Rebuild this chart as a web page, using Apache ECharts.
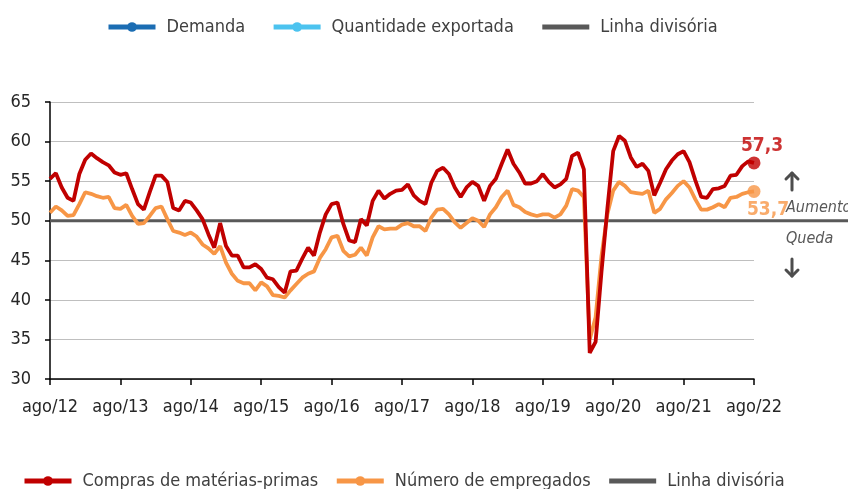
<!DOCTYPE html>
<html><head><meta charset="utf-8">
<script src="https://cdn.jsdelivr.net/npm/echarts@6/dist/echarts.min.js"></script>
<style>html,body{margin:0;padding:0;background:#fff}#c{width:848px;height:489px}</style>
</head><body><div id="c"></div>
<script>
const FONT = "'Liberation Sans Narrow','DejaVu Sans Condensed',Roboto,sans-serif";
const monthNames = ['ago','set','out','nov','dez','jan','fev','mar','abr','mai','jun','jul'];
const startYear = 12;
const categories = [];
for (let i = 0; i < 121; i++) {
  const m = i % 12;
  const yr = startYear + Math.floor((i + 7) / 12);
  categories.push(monthNames[m] + '/' + String(yr).padStart(2, '0'));
}
const yTicks = [30, 35, 40, 45, 50, 55, 60, 65];
const divisorValue = 50;

const compras = [55.3,56.0,54.2,52.9,52.5,55.9,57.7,58.5,57.9,57.4,57.0,56.1,
 55.8,56.0,54.0,52.1,51.4,53.6,55.7,55.7,54.9,51.6,51.3,52.5,
 52.3,51.3,50.2,48.3,46.6,49.7,46.8,45.6,45.6,44.1,44.1,44.5,
 43.9,42.8,42.6,41.6,40.9,43.6,43.7,45.2,46.6,45.6,48.5,50.8,
 52.1,52.3,49.6,47.5,47.3,50.2,49.4,52.5,53.8,52.8,53.4,53.8,
 53.9,54.6,53.2,52.5,52.1,54.8,56.3,56.7,55.9,54.2,53.0,54.2,
 54.9,54.4,52.5,54.4,55.3,57.2,59.0,57.2,56.1,54.7,54.7,55.0,
 55.9,54.9,54.2,54.6,55.3,58.2,58.6,56.5,33.3,34.7,43.5,51.5,
 58.8,60.7,60.1,58.0,56.8,57.2,56.3,53.2,54.8,56.5,57.6,58.4,
 58.8,57.4,55.1,53.0,52.9,54.0,54.1,54.4,55.7,55.8,56.9,57.5,
 57.3];
const empregados = [51.0,51.8,51.3,50.6,50.7,52.1,53.6,53.4,53.1,52.9,53.0,51.6,
 51.5,52.0,50.6,49.6,49.7,50.6,51.6,51.8,50.2,48.7,48.5,48.2,
 48.5,48.0,47.0,46.5,45.8,46.8,44.7,43.3,42.4,42.1,42.1,41.2,
 42.2,41.7,40.6,40.5,40.3,41.2,42.0,42.8,43.3,43.6,45.3,46.4,
 47.9,48.1,46.2,45.5,45.7,46.6,45.6,47.9,49.3,48.9,49.0,49.0,
 49.5,49.7,49.3,49.3,48.7,50.4,51.4,51.5,50.8,49.8,49.1,49.7,
 50.3,50.0,49.2,50.8,51.7,53.0,53.8,52.0,51.7,51.1,50.8,50.6,
 50.8,50.8,50.4,50.8,51.9,54.0,53.8,53.0,35.0,37.8,45.5,50.8,
 53.8,54.9,54.4,53.6,53.5,53.4,53.8,51.0,51.5,52.7,53.5,54.4,
 55.0,54.2,52.7,51.4,51.4,51.7,52.1,51.7,52.9,53.0,53.4,53.6,
 53.7];

const RED = '#c00000', ORANGE = '#f79646', GRAY = '#595959';
const fmt = v => String(v).replace('.', ',');
const last = categories.length - 1;
const noSymbol = {color: 'rgba(0,0,0,0)', borderColor: 'rgba(0,0,0,0)', borderWidth: 0};
const legendText = {fontFamily: FONT, fontSize: 18, color: '#404040', padding: [0, 0, 0, 6]};
const arrowStyle = {stroke: '#4d4d4d', lineWidth: 3, lineCap: 'round', lineJoin: 'round', fill: null};

const chart = echarts.init(document.getElementById('c'), null, {renderer: 'canvas'});
chart.setOption({
  animation: false,
  textStyle: {fontFamily: FONT},
  legend: [
    {top: 13, left: 101, itemWidth: 47, itemHeight: 12, itemGap: 26,
     lineStyle: {width: 5}, textStyle: legendText,
     data: ['Demanda', 'Quantidade exportada', {name: 'Linha divisória', itemStyle: noSymbol}]},
    {top: 467, left: 17, itemWidth: 47, itemHeight: 12, itemGap: 16,
     lineStyle: {width: 5}, textStyle: legendText,
     data: ['Compras de matérias-primas', 'Número de empregados', {name: 'Linha divisória', itemStyle: noSymbol}]}
  ],
  grid: [
    {left: 50, right: 94, top: 102, bottom: 110, containLabel: false},
    {left: 50, right: 0, top: 102, bottom: 110, containLabel: false}
  ],
  xAxis: [
    {type: 'category', gridIndex: 0, data: categories, boundaryGap: false,
     axisLine: {lineStyle: {color: '#000', width: 1.5}},
     axisTick: {interval: 11, length: 6, lineStyle: {color: '#000', width: 1.5}},
     axisLabel: {interval: 11, margin: 19, fontFamily: FONT, fontSize: 18, color: '#262626'},
     splitLine: {show: false}},
    {type: 'value', gridIndex: 1, min: 0, max: 1, show: false}
  ],
  yAxis: [
    {type: 'value', gridIndex: 0, min: yTicks[0], max: yTicks[yTicks.length - 1], interval: 5,
     axisLine: {show: true, lineStyle: {color: '#000', width: 1.5}},
     axisTick: {show: true, length: 5, lineStyle: {color: '#000', width: 1.5}},
     axisLabel: {margin: 19, fontFamily: FONT, fontSize: 18, color: '#262626'},
     splitLine: {lineStyle: {color: '#bfbfbf', width: 1}}},
    {type: 'value', gridIndex: 1, min: yTicks[0], max: yTicks[yTicks.length - 1], show: false}
  ],
  series: [
    {name: 'Demanda', type: 'line', data: [], color: '#1b6db3', symbol: 'circle', symbolSize: 8,
     lineStyle: {width: 4}},
    {name: 'Quantidade exportada', type: 'line', data: [], color: '#4cc3ef', symbol: 'circle', symbolSize: 8,
     lineStyle: {width: 4}},
    {name: 'Linha divisória', type: 'line', xAxisIndex: 1, yAxisIndex: 1, z: 1,
     data: [[0, divisorValue], [1, divisorValue]], color: GRAY, symbol: 'none',
     lineStyle: {width: 3, color: GRAY}},
    {name: 'Número de empregados', type: 'line', data: empregados, color: ORANGE, symbol: 'circle',
     symbolSize: 8, showSymbol: false, lineStyle: {width: 3.8, color: ORANGE}, z: 3},
    {name: 'Compras de matérias-primas', type: 'line', data: compras, color: RED, symbol: 'circle',
     symbolSize: 8, showSymbol: false, lineStyle: {width: 3.8, color: RED}, z: 4},
    {type: 'scatter', data: [[categories[last], empregados[last]]], symbolSize: 13, color: ORANGE, z: 5,
     label: {show: true, position: 'bottom', distance: 3, offset: [14, 0], formatter: p => fmt(p.value[1]),
       fontFamily: FONT, fontSize: 19, fontWeight: 'bold', color: ORANGE}},
    {type: 'scatter', data: [[categories[last], compras[last]]], symbolSize: 13, color: RED, z: 6,
     label: {show: true, position: 'top', distance: 1, offset: [8, 0], formatter: p => fmt(p.value[1]),
       fontFamily: FONT, fontSize: 19, fontWeight: 'bold', color: RED}}
  ],
  graphic: [
    {type: 'polyline', shape: {points: [[792, 190], [792, 173]]}, style: arrowStyle},
    {type: 'polyline', shape: {points: [[786, 179], [792, 173], [798, 179]]}, style: arrowStyle},
    {type: 'text', left: 786, top: 200, style: {text: 'Aumento', fontFamily: FONT, fontSize: 16, fontStyle: 'italic', fill: GRAY}},
    {type: 'text', left: 786, top: 231, style: {text: 'Queda', fontFamily: FONT, fontSize: 16, fontStyle: 'italic', fill: GRAY}},
    {type: 'polyline', shape: {points: [[792, 259], [792, 276]]}, style: arrowStyle},
    {type: 'polyline', shape: {points: [[786, 270], [792, 276], [798, 270]]}, style: arrowStyle}
  ]
});
</script></body></html>
